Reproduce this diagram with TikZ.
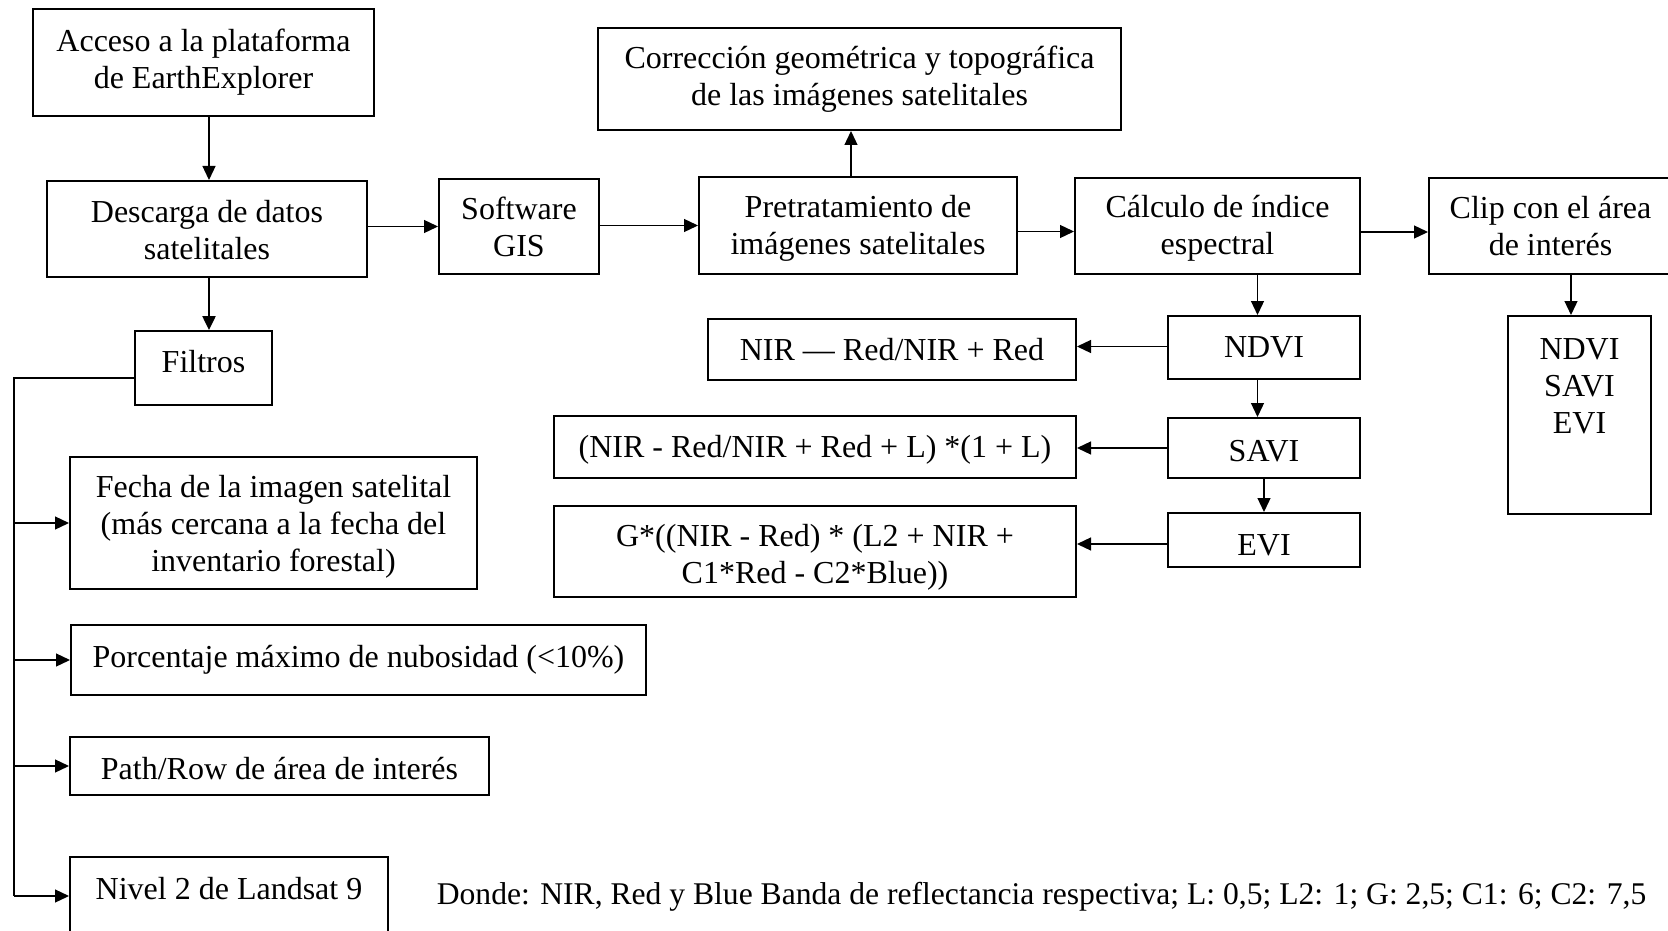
\documentclass[tikz,border=0pt]{standalone}
\usepackage{fontspec}
\setmainfont{Liberation Serif}
\usetikzlibrary{arrows.meta}
\newcommand\mybox[7][0]{\node[box, minimum width={#5-#3}, minimum height={#6-#4},
  label={[inlab, yshift=-#1pt]center:#7}] (#2) at ({(#3+#5)/2},{(#4+#6)/2}) {};}
\begin{document}
\begin{tikzpicture}[x=1pt,y=-1pt,
  txt/.style={font=\fontsize{32}{37}\selectfont},
  box/.style={draw, line width=2pt, inner sep=0pt, align=center, txt},
  conn/.style={line width=1.3pt, -{Triangle[length=14pt,width=13pt]}},
  inlab/.style={anchor=center, align=center, inner sep=0pt, txt},
]
\useasboundingbox[fill=white] (0,0) rectangle (1668,931);

\mybox{acc}{33}{9}{374}{116}{Acceso a la plataforma\\de EarthExplorer}
\mybox[1.5]{desc}{47}{181}{367}{277}{Descarga de datos\\satelitales}
\mybox[-6]{filt}{135}{331}{272}{405}{Filtros}
\mybox[3.5]{fecha}{70}{457}{477}{589}{Fecha de la imagen satelital\\(más cercana a la fecha del\\inventario forestal)}
\mybox{porc}{71}{625}{646}{695}{Porcentaje máximo de nubosidad (<10\%)}
\mybox[3]{path}{70}{737}{489}{795}{Path/Row de área de interés}
\node[box, minimum width=318, minimum height=86,
  label={[inlab, yshift=-33pt]north:Nivel 2 de Landsat 9}] (nivel) at (229,900) {};
\mybox[0.5]{gis}{439}{179}{599}{274}{Software\\GIS}
\mybox[3]{pret}{699}{177}{1017}{274}{Pretratamiento de\\imágenes satelitales}
\mybox{corr}{598}{28}{1121}{130}{Corrección geométrica y topográfica\\de las imágenes satelitales}
\mybox[2]{calc}{1075}{178}{1360}{274}{Cálculo de índice\\espectral}
\mybox{clip}{1429}{178}{1672}{274}{Clip con el área\\de interés}
\node[box, minimum width=143, minimum height=198,
  label={[inlab, yshift=-71pt]north:NDVI\\SAVI\\EVI}] (out) at (1579.5,415) {};
\mybox{ndvi}{1168}{316}{1360}{379}{NDVI}
\mybox[3]{savi}{1168}{418}{1360}{478}{SAVI}
\mybox[5]{evi}{1168}{513}{1360}{567}{EVI}
\mybox{fndvi}{708}{319}{1076}{380}{NIR — Red/NIR + Red}
\mybox[3]{fsavi}{554}{416}{1076}{478}{(NIR - Red/NIR + Red + L) *(1 + L)}
\mybox[6]{fevi}{554}{506}{1076}{597}{G*((NIR - Red) * (L2 + NIR +\\C1*Red - C2*Blue))}
\node[font=\fontsize{31.6}{37}\selectfont, anchor=center] (donde) at (1041.5,897) {Donde: NIR, Red y Blue Banda de reflectancia respectiva; L: 0,5; L2: 1; G: 2,5; C1: 6; C2: 7,5};

% connectors
\draw[conn] ([xshift=2pt]desc.north |- acc.south) -- ([xshift=2pt]desc.north);
\draw[conn, line width=2.5pt] ([xshift=2pt]desc.south) -- ([xshift=2pt]desc.south |- filt.north);
\coordinate (t0) at (14,378);
\coordinate (t4) at (14,896);
\draw[line width=1.3pt] ([yshift=-10pt]filt.west) -- (t0) -- (t4);
\draw[conn] (t0 |- fecha) -- (fecha.west);
\draw[conn] (t0 |- porc) -- (porc.west);
\draw[conn] (t0 |- path) -- (path.west);
\draw[conn] (t4) -- (t4 -| nivel.west);
\draw[conn] (desc.east |- gis) -- (gis.west);
\draw[conn] (gis.east |- pret) -- (pret.west);
\draw[conn] ([xshift=-7pt]pret.north) -- ([xshift=-7pt]pret.north |- corr.south);
\draw[conn] ([yshift=-6pt]pret.east) -- ([yshift=-6pt]pret.east -| calc.west);
\draw[conn] ([yshift=-6pt]calc.east) -- ([yshift=-6pt]calc.east -| clip.west);
\draw[conn] ([xshift=-8.5pt]out.north |- clip.south) -- ([xshift=-8.5pt]out.north);
\draw[conn] ([xshift=-6.5pt]ndvi.north |- calc.south) -- ([xshift=-6.5pt]ndvi.north);
\draw[conn] ([xshift=-6.5pt]ndvi.south) -- ([xshift=-6.5pt]savi.north);
\draw[conn] (savi.south) -- (evi.north);
\draw[conn] ([yshift=1pt]ndvi.west) -- ([yshift=1pt]ndvi.west -| fndvi.east);
\draw[conn] (savi.west) -- (savi.west -| fsavi.east);
\draw[conn] ([yshift=-4pt]evi.west) -- ([yshift=-4pt]evi.west -| fevi.east);
\end{tikzpicture}
\end{document}
